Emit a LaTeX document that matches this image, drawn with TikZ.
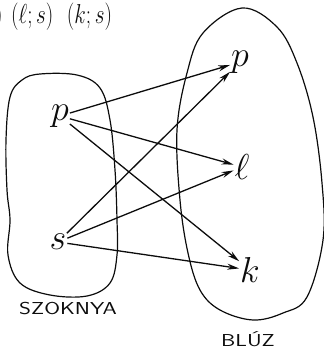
\documentclass[tikz,border=0pt]{standalone}
\usepackage{tikz}
\usetikzlibrary{arrows.meta, positioning}
\definecolor{ink}{RGB}{12,12,12}
\tikzset{
  setline/.style={draw=ink, line width=1.2pt},
  elem/.style={font=\Huge, scale=1.45, inner sep=0.5pt, text=ink},
  setname/.style={font=\sffamily\LARGE, xscale=1.32, text=ink},
  pairtext/.style={font=\Huge, xscale=0.85, yscale=1.1, inner sep=0pt, text=ink},
  arrow/.style={-{Stealth[length=12pt, width=6pt]}, line width=1.3pt, color=ink}
}

\begin{document}
\begin{tikzpicture}[x=1pt, y=-1pt]
  \useasboundingbox (0,0) rectangle (324,349);

  % Pairs (cut off at the left edge)
  \node[pairtext, anchor=west] (pairs) at (-5,17) {$)$\hspace{10pt}$(\ell;s)$\hspace{16pt}$(k;s)$};

  % Skirt set
  \draw[setline] plot[smooth cycle, tension=0.6] coordinates {
    (6,140) (10,97) (22,80) (40,74) (77,75) (100,88) (110,120) (115,170)
    (117,220) (117,255) (110,283) (87,296) (50,295) (20,283) (8,255)
    (10,220) (7,190)};
  \node[setname] (szoknya) at (68,308) {SZOKNYA};

  % Blouse set
  \draw[setline] plot[smooth cycle, tension=0.6] coordinates {
    (242,8) (277,27) (297,63) (313,117) (322,183) (323,240) (307,297)
    (283,313) (253,320) (220,310) (200,290) (188,253) (180,200) (177,130)
    (187,73) (203,33)};
  \node[setname] (bluz) at (248,339) {BLÚZ};

  % Elements
  \node[elem] (sp) at (60,116) {$p$};
  \node[elem] (ss) at (58,242) {$s$};
  \node[elem] (bp) at (240,62) {$p$};
  \node[elem] (bl) at (242,167) {$\ell$};
  \node[elem] (bk) at (250,270) {$k$};

  % Mapping arrows
  \draw[arrow] (sp) -- (bp);
  \draw[arrow] (sp) -- (bl);
  \draw[arrow] (sp) -- (bk);
  \draw[arrow] (ss) -- (bp);
  \draw[arrow] (ss) -- (bl);
  \draw[arrow] (ss) -- (bk);
\end{tikzpicture}
\end{document}
